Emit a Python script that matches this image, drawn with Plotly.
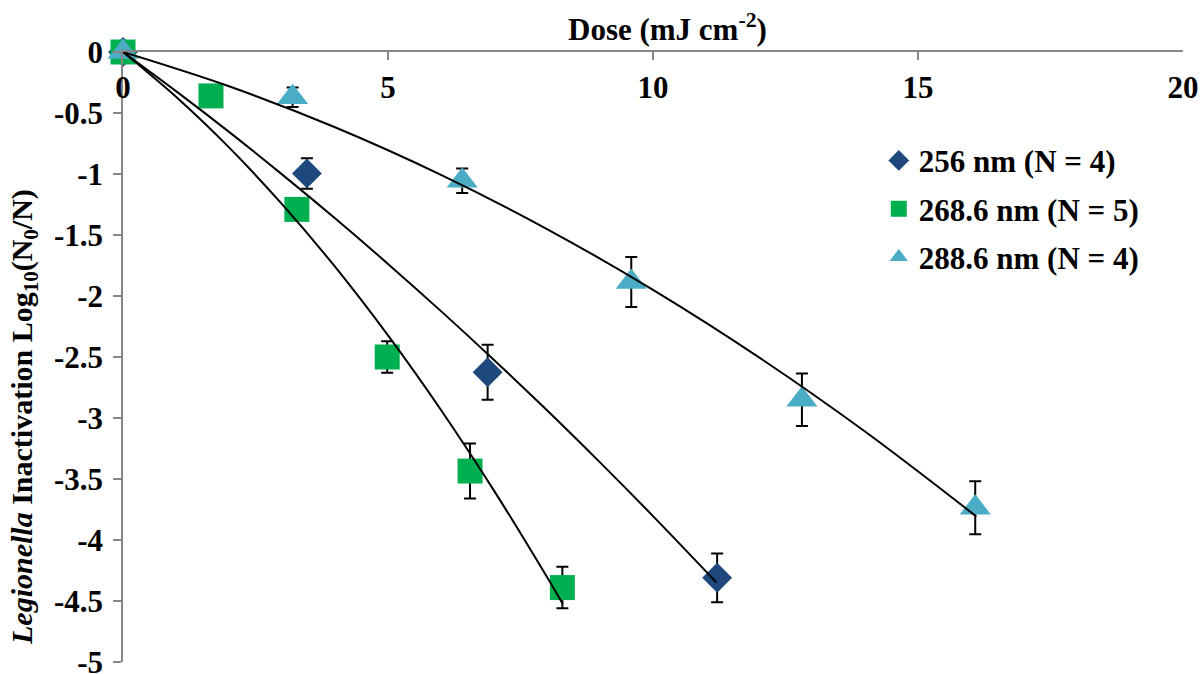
import plotly.graph_objects as go

# ---- data ----
dose_256 = [0, 3.47, 6.88, 11.21]
log_256 = [0, -0.995, -2.625, -4.31]
err_256 = [0, 0.125, 0.225, 0.20]

dose_268 = [0, 1.66, 3.28, 4.985, 6.548, 8.29]
log_268 = [0, -0.36, -1.29, -2.50, -3.435, -4.39]
err_268 = [0, 0.05, 0.08, 0.13, 0.225, 0.17]

dose_288 = [0, 3.2, 6.4, 9.59, 12.81, 16.08]
log_288 = [0, -0.37, -1.055, -1.885, -2.85, -3.735]
err_288 = [0, 0.08, 0.10, 0.205, 0.215, 0.217]

# fitted curves
curve_256_x = [0, 1, 2, 3, 4, 5, 6, 7, 8, 9, 10, 11.2]
curve_256_y = [0, -0.321, -0.655, -1.003, -1.363, -1.737, -2.124, -2.524, -2.937, -3.364, -3.804, -4.349]
curve_268_x = [0, 1, 2, 3, 4, 5, 6, 7, 8, 8.3]
curve_268_y = [0, -0.367, -0.782, -1.247, -1.760, -2.323, -2.934, -3.595, -4.304, -4.526]
curve_288_x = [0, 2, 4, 6, 8, 10, 12, 14, 16.1]
curve_288_y = [0, -0.281, -0.617, -1.007, -1.451, -1.950, -2.503, -3.111, -3.807]

x_ticks = [0, 5, 10, 15, 20]
x_ticktext = ["0", "5", "10", "15", "20"]
y_ticks = [0, -0.5, -1, -1.5, -2, -2.5, -3, -3.5, -4, -4.5, -5]
y_ticktext = ["0", "-0.5", "-1", "-1.5", "-2", "-2.5", "-3", "-3.5", "-4", "-4.5", "-5"]

names = ["256 nm (N = 4)", "268.6 nm (N = 5)", "288.6 nm (N = 4)"]
colors = ["#1F497D", "#00B050", "#4BACC6"]
symbols = ["diamond", "square", "triangle-up"]
sizes = [23, 25, 27]

FONT = "'Liberation Serif', 'Times New Roman', serif"
fig = go.Figure()

series = [(dose_256, log_256, err_256), (dose_268, log_268, err_268), (dose_288, log_288, err_288)]
for i, (xs, ys, es) in enumerate(series):
    fig.add_trace(go.Scatter(
        x=xs, y=ys, mode="markers", name=names[i], legendgroup=f"g{i}",
        marker=dict(symbol=symbols[i], size=sizes[i], color=colors[i], line=dict(width=0)),
        error_y=dict(type="data", array=es, visible=True, color="black", thickness=2, width=6),
        cliponaxis=False,
    ))

for cx, cy in [(curve_256_x, curve_256_y), (curve_268_x, curve_268_y), (curve_288_x, curve_288_y)]:
    fig.add_trace(go.Scatter(
        x=cx, y=cy, mode="lines", line=dict(color="black", width=2, shape="spline"),
        showlegend=False, hoverinfo="skip", cliponaxis=False,
    ))

axis_color = "#868686"
tfont = dict(family=FONT, size=31, color="black", weight="bold")
vfont = dict(family=FONT, size=30, color="black", weight="bold")
fig.update_layout(
    width=1203, height=674,
    paper_bgcolor="white", plot_bgcolor="white",
    margin=dict(l=123, r=20, t=52, b=12),
    font=tfont,
    xaxis=dict(
        range=[0, 20], side="top", showline=True, linecolor=axis_color, linewidth=1.5,
        ticks="inside", ticklen=8, tickcolor=axis_color, tickwidth=1.5,
        tickvals=x_ticks, ticktext=x_ticktext, ticklabelposition="inside",
        ticklabelstandoff=20, ticklabeloverflow="allow", automargin=False,
        showgrid=False, zeroline=False, tickfont=tfont,
    ),
    yaxis=dict(
        range=[-5, 0], showline=True, linecolor=axis_color, linewidth=1.5,
        ticks="outside", ticklen=8, tickcolor=axis_color, tickwidth=1.5,
        tickvals=y_ticks, ticktext=y_ticktext, ticklabelstandoff=4,
        ticklabeloverflow="allow", automargin=False,
        showgrid=False, zeroline=False, tickfont=tfont,
    ),
    legend=dict(
        x=0.713, y=0.866, xanchor="left", yanchor="top",
        bgcolor="rgba(0,0,0,0)", tracegroupgap=5, traceorder="grouped",
        font=tfont,
    ),
    annotations=[
        dict(text="Dose (mJ cm<sup>-2</sup>)", xref="paper", yref="paper",
             x=(667 - 123) / 1060, y=1 + (52 - 27) / 610, xanchor="center", yanchor="middle",
             showarrow=False, font=tfont),
        dict(text="<i>Legionella</i> Inactivation Log<sub>10</sub>(N<sub>0</sub>/N)",
             xref="paper", yref="paper", textangle=-90,
             x=-(123 - 24) / 1060, y=(662 - 417) / 610, xanchor="center", yanchor="middle",
             showarrow=False, font=vfont),
    ],
)

fig.write_html("out.html")
